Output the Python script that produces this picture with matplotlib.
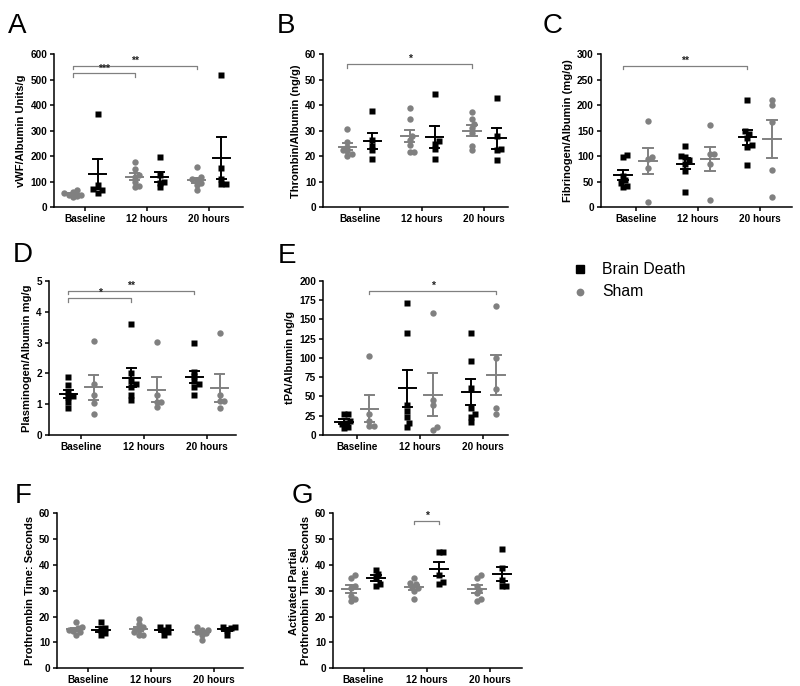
import numpy as np
import matplotlib.pyplot as plt
from matplotlib.lines import Line2D

plt.rcParams['font.family'] = ['Liberation Sans', 'DejaVu Sans']

times = ['Baseline', '12 hours', '20 hours']
BLACK = '#000000'
GRAY = '#808080'

# values per time point (Baseline, 12 hours, 20 hours); bd = black squares, sham = gray circles
vwf_bd = [[367, 88, 72, 68, 58], [196, 125, 100, 95, 78], [518, 156, 111, 92, 92]]
vwf_sham = [[68, 62, 55, 50, 48, 45, 42], [178, 150, 128, 120, 100, 82, 80],
            [157, 118, 110, 105, 95, 88, 68]]

thr_bd = [[37.7, 26.5, 24.1, 22.4, 19.1], [44.6, 26.0, 24.8, 23.0, 19.1], [43.0, 28.0, 22.8, 22.6, 18.6]]
thr_sham = [[30.6, 25.8, 23.8, 22.0, 21.0, 20.2, 22.4], [38.8, 34.5, 28.0, 26.5, 24.5, 21.5, 21.5],
            [37.3, 34.7, 32.5, 31.0, 29.0, 24.0, 22.3]]

fib_bd = [[102, 98, 62, 54, 48, 40, 42], [120, 100, 98, 92, 85, 72, 31], [211, 150, 143, 135, 123, 119, 82]]
fib_sham = [[170, 99, 95, 78, 11], [162, 105, 104, 84, 15], [211, 200, 168, 74, 21]]

plg_bd = [[1.89, 1.62, 1.41, 1.28, 1.23, 1.06, 0.87], [3.6, 2.0, 1.75, 1.65, 1.55, 1.3, 1.15],
          [2.98, 2.05, 1.9, 1.75, 1.65, 1.55, 1.3]]
plg_sham = [[3.05, 1.65, 1.3, 1.05, 0.68], [3.03, 1.3, 1.07, 1.07, 0.9], [3.3, 1.3, 1.1, 1.1, 0.87]]

tpa_bd = [[27, 27, 18, 16, 14, 11, 9], [172, 132, 39, 31, 23, 16, 11], [132, 96, 61, 35, 27, 23, 17]]
tpa_sham = [[103, 27, 18, 12, 12], [159, 46, 39, 11, 7], [167, 100, 60, 35, 27]]

pt_bd = [[18, 15.5, 15, 13.5, 13], [16, 16, 15, 14, 13], [16, 16, 15.5, 15, 13]]
pt_sham = [[18, 16, 15.5, 15, 14.5, 14, 13], [19, 17, 16, 15, 14, 13, 13],
           [16, 15, 15, 14, 13.5, 13, 11]]

aptt_bd = [[38, 36.5, 35, 32.5, 32], [45, 45, 36, 33.5, 32.5], [46, 39, 34, 32, 32]]
aptt_sham = [[36, 35, 32, 31, 28, 27, 26], [35, 33, 32.5, 31.5, 31, 30, 27],
             [36, 35, 32, 30.5, 29, 27, 26]]

# panel: letter, ylabel, ymax, ystep, bd, sham, first series, brackets (g1, s1, g2, s2, y, label)
panels = [
    dict(letter='A', ylabel='vWF/Albumin Units/g', ymax=600, ystep=100, bd=vwf_bd, sham=vwf_sham,
         first='sham', rect=[0.0679, 0.6978, 0.236, 0.223], xlim=(-0.5, 2.55), lpos=(8, 33),
         brackets=[(0, 'sham', 2, 'sham', 554, '**'), (0, 'sham', 1, 'sham', 525, '***')]),
    dict(letter='B', ylabel='Thrombin/Albumin (ng/g)', ymax=60, ystep=10, bd=thr_bd, sham=thr_sham,
         first='sham', rect=[0.404, 0.6978, 0.231, 0.223], xlim=(-0.59, 2.38), lpos=(277, 33),
         brackets=[(0, 'sham', 2, 'sham', 56.1, '*')]),
    dict(letter='C', ylabel='Fibrinogen/Albumin (mg/g)', ymax=300, ystep=50, bd=fib_bd, sham=fib_sham,
         first='bd', rect=[0.751, 0.6978, 0.239, 0.223], xlim=(-0.56, 2.52), lpos=(543, 33),
         brackets=[(0, 'bd', 2, 'bd', 277, '**')]),
    dict(letter='D', ylabel='Plasminogen/Albumin mg/g', ymax=5, ystep=1, bd=plg_bd, sham=plg_sham,
         first='bd', rect=[0.061, 0.3659, 0.234, 0.2245], xlim=(-0.51, 2.46), lpos=(13, 262),
         brackets=[(0, 'bd', 2, 'bd', 4.69, '**'), (0, 'bd', 1, 'bd', 4.44, '*')]),
    dict(letter='E', ylabel='tPA/Albumin ng/g', ymax=200, ystep=25, bd=tpa_bd, sham=tpa_sham,
         first='bd', rect=[0.404, 0.3659, 0.231, 0.2245], xlim=(-0.53, 2.39), lpos=(278, 263),
         brackets=[(0, 'sham', 2, 'sham', 187, '*')]),
    dict(letter='F', ylabel='Prothrombin Time: Seconds', ymax=60, ystep=10, bd=pt_bd, sham=pt_sham,
         first='sham', rect=[0.0716, 0.0258, 0.2325, 0.2259], xlim=(-0.49, 2.46), lpos=(15, 503),
         brackets=[]),
    dict(letter='G', ylabel='Activated Partial\nProthrombin Time: Seconds', ymax=60, ystep=10,
         bd=aptt_bd, sham=aptt_sham, first='sham', rect=[0.4166, 0.0258, 0.2355, 0.2259],
         xlim=(-0.48, 2.51), lpos=(292, 503),
         brackets=[(1, 'sham', 1, 'bd', 57.2, '*')]),
]

W, H = 800, 686
fig = plt.figure(figsize=(8, 6.86), dpi=100)

OFF = 0.2


def swarm(vals, px_y, px_x, d=4.2):
    # spread points sideways so they do not pile up
    vals = np.asarray(vals, float)
    xs = np.zeros(len(vals))
    placed = []
    for i in np.argsort(vals):
        y = vals[i] * px_y
        pos = None
        k = 0
        while pos is None:
            cands = [0.0] if k == 0 else [k * d / 2, -k * d / 2]
            for c in cands:
                if all((c - px) ** 2 + (y - py) ** 2 >= d * d for px, py in placed):
                    pos = c
                    break
            k += 1
        placed.append((pos, y))
        xs[i] = pos / px_x
    return xs


for p in panels:
    ax = fig.add_axes(p['rect'])
    ax.set_xlim(*p['xlim'])
    ax.set_ylim(0, p['ymax'])
    px_y = p['rect'][3] * H / p['ymax']
    px_x = p['rect'][2] * W / (p['xlim'][1] - p['xlim'][0])
    offs = {p['first']: -OFF, ('bd' if p['first'] == 'sham' else 'sham'): OFF}
    style = {'bd': dict(marker='s', color=BLACK, ms=4.3),
             'sham': dict(marker='o', color=GRAY, ms=4.6)}
    for key in ('bd', 'sham'):
        st = style[key]
        for g, vals in enumerate(p[key]):
            cx = g + offs[key]
            xs = cx + swarm(vals, px_y, px_x)
            ax.plot(xs, vals, linestyle='none', marker=st['marker'], ms=st['ms'],
                    color=st['color'], mec='none', zorder=3)
            m = np.mean(vals)
            se = np.std(vals, ddof=1) / np.sqrt(len(vals))
            ax.plot([cx - 0.14, cx + 0.14], [m, m], color=st['color'], lw=1.4, zorder=4)
            ax.plot([cx, cx], [m - se, m + se], color=st['color'], lw=1.4, zorder=4)
            for yy in (m - se, m + se):
                ax.plot([cx - 0.075, cx + 0.075], [yy, yy], color=st['color'], lw=1.4, zorder=4)
    tick = p['ymax'] * 0.022
    for g1, s1, g2, s2, yb, lab in p['brackets']:
        x1 = g1 + offs[s1]
        x2 = g2 + offs[s2]
        ax.plot([x1, x1, x2, x2], [yb - tick, yb, yb, yb - tick], color=GRAY, lw=0.9,
                clip_on=False)
        ax.text((x1 + x2) / 2, yb, lab, ha='center', va='bottom', fontsize=7.5,
                fontweight='bold', color='#222222')

    ax.set_yticks(np.arange(0, p['ymax'] + p['ystep'] / 2, p['ystep']))
    ax.set_xticks([0, 1, 2])
    ax.set_xticklabels(times)
    for side in ('top', 'right'):
        ax.spines[side].set_visible(False)
    for side in ('left', 'bottom'):
        ax.spines[side].set_linewidth(1.1)
    ax.tick_params(axis='both', direction='out', length=3, width=1.1, labelsize=7.2, pad=2)
    for lbl in ax.get_xticklabels() + ax.get_yticklabels():
        lbl.set_fontweight('bold')
    ax.set_ylabel(p['ylabel'], fontsize=8, fontweight='bold', labelpad=3)
    fig.text(p['lpos'][0] / W, 1 - p['lpos'][1] / H, p['letter'], fontsize=20,
             ha='left', va='baseline')

# legend
leg_labels = ['Brain Death', 'Sham']
leg_y = [269, 292]
fig.add_artist(Line2D([580 / W], [1 - leg_y[0] / H], marker='s', ms=5.2, color=BLACK,
                      linestyle='none', transform=fig.transFigure))
fig.add_artist(Line2D([580 / W], [1 - leg_y[1] / H], marker='o', ms=5.6, color=GRAY,
                      linestyle='none', mec='none', transform=fig.transFigure))
for lab, yy in zip(leg_labels, leg_y):
    fig.text(602 / W, 1 - yy / H, lab, fontsize=11.3, va='center', ha='left')

fig.savefig('out.png', dpi=100)
